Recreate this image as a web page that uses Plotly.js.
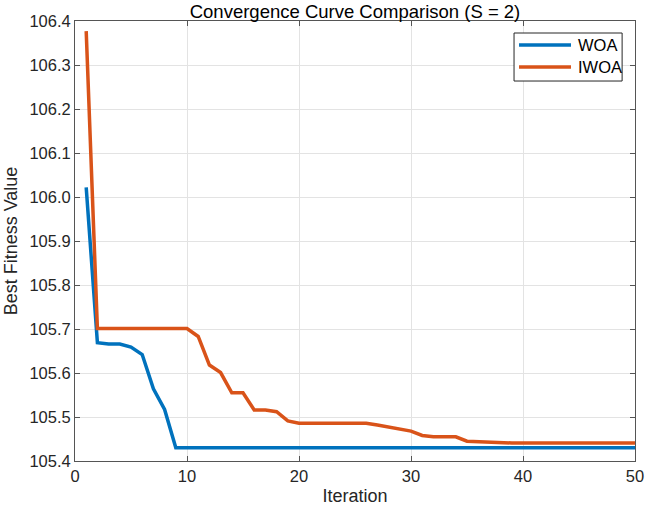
<!DOCTYPE html>
<html><head><meta charset="utf-8">
<script src="https://cdn.plot.ly/plotly-3.0.1.min.js"></script>
<style>html,body{margin:0;padding:0;background:#fff}#plot{width:645px;height:513px}</style>
</head><body><div id="plot"></div>
<script>
const iterations = Array.from({length: 50}, (_, i) => i + 1);
const woa = [106.022, 105.669, 105.666, 105.666, 105.659, 105.642, 105.564, 105.517, 105.430, 105.430,
  105.430, 105.430, 105.430, 105.430, 105.430, 105.430, 105.430, 105.430, 105.430, 105.430,
  105.430, 105.430, 105.430, 105.430, 105.430, 105.430, 105.430, 105.430, 105.430, 105.430,
  105.430, 105.430, 105.430, 105.430, 105.430, 105.430, 105.430, 105.430, 105.430, 105.430,
  105.430, 105.430, 105.430, 105.430, 105.430, 105.430, 105.430, 105.430, 105.430, 105.430];
const iwoa = [106.377, 105.701, 105.701, 105.701, 105.701, 105.701, 105.701, 105.701, 105.701, 105.701,
  105.683, 105.618, 105.601, 105.555, 105.555, 105.516, 105.516, 105.512, 105.491, 105.486,
  105.486, 105.486, 105.486, 105.486, 105.486, 105.486, 105.482, 105.477, 105.473, 105.468,
  105.458, 105.455, 105.455, 105.455, 105.445, 105.444, 105.442, 105.441, 105.441, 105.441,
  105.441, 105.441, 105.441, 105.441, 105.441, 105.441, 105.441, 105.441, 105.441, 105.441];
const seriesNames = ['WOA', 'IWOA'];
const seriesColors = ['#0072BD', '#D95319'];

const font = 'Liberation Sans, Arial, sans-serif';
const traces = [
  {x: iterations, y: woa, name: seriesNames[0], mode: 'lines', line: {color: seriesColors[0], width: 3.5}},
  {x: iterations, y: iwoa, name: seriesNames[1], mode: 'lines', line: {color: seriesColors[1], width: 3.5}}
];
const axisCommon = {
  showline: true, mirror: 'ticks', linecolor: '#555555', linewidth: 1,
  ticks: 'inside', ticklen: 5, tickcolor: '#555555',
  showgrid: true, gridcolor: '#e3e3e3', gridwidth: 1, zeroline: false,
  tickfont: {family: font, size: 16.5, color: '#262626'}
};

// custom MATLAB-style legend box (paper coordinates of the plot area)
const legBox = {x0: 0.784, x1: 0.977, y0: 0.8636, y1: 0.9727};
const legRows = [0.9455, 0.8955];
const shapes = [{type: 'rect', xref: 'paper', yref: 'paper', x0: legBox.x0, x1: legBox.x1, y0: legBox.y0, y1: legBox.y1,
  fillcolor: '#ffffff', line: {color: '#262626', width: 1}, layer: 'above'}];
const annotations = [];
seriesNames.forEach((n, i) => {
  shapes.push({type: 'line', xref: 'paper', yref: 'paper', x0: 0.7929, x1: 0.8857, y0: legRows[i], y1: legRows[i],
    line: {color: seriesColors[i], width: 3.5}, layer: 'above'});
  annotations.push({xref: 'paper', yref: 'paper', x: 0.8946, y: legRows[i], xanchor: 'left', yanchor: 'middle',
    text: n, showarrow: false, font: {family: font, size: 16.5, color: '#000'}});
});

const layout = {
  width: 645, height: 513,
  margin: {l: 75, r: 10, t: 21, b: 52},
  paper_bgcolor: '#fff', plot_bgcolor: '#fff',
  title: {text: 'Convergence Curve Comparison (S = 2)', xref: 'paper', x: 0.5, xanchor: 'center',
    yref: 'paper', y: 1, yanchor: 'bottom', pad: {b: 3},
    font: {family: font, size: 18.5, color: '#000'}},
  xaxis: Object.assign({}, axisCommon, {range: [0, 50], dtick: 10, tick0: 0,
    title: {text: 'Iteration', font: {family: font, size: 18, color: '#262626'}, standoff: 5}}),
  yaxis: Object.assign({}, axisCommon, {range: [105.4, 106.4], dtick: 0.1, tick0: 105.4, tickformat: '.1f',
    title: {text: 'Best Fitness Value', font: {family: font, size: 18, color: '#262626'}, standoff: 7}}),
  showlegend: false,
  shapes: shapes,
  annotations: annotations
};
Plotly.newPlot('plot', traces, layout, {displayModeBar: false, staticPlot: true});
</script></body></html>
